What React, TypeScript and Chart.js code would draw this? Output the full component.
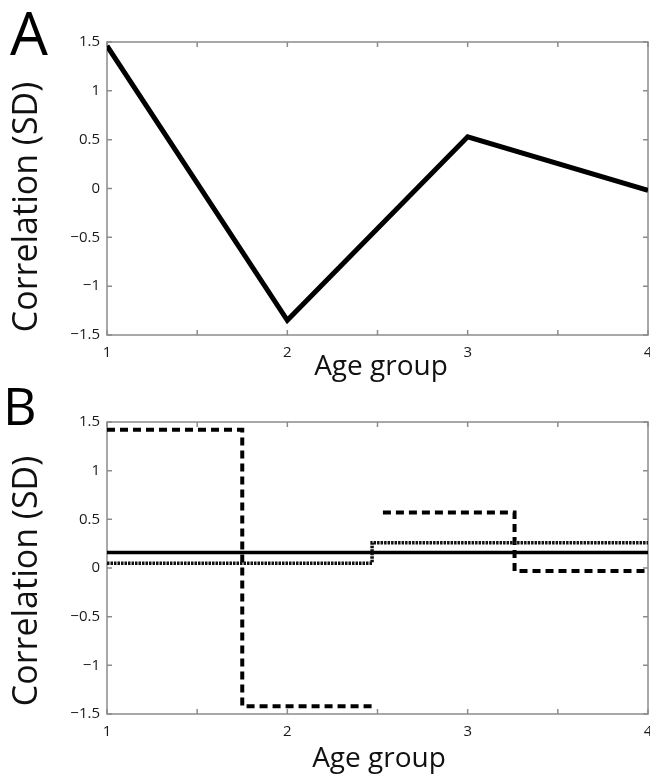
import React, { useEffect, useRef } from "react";
import { Chart, registerables } from "chart.js";

Chart.register(...registerables);

// ---- Panel A data ----
const ageGroupsA = [1, 2, 3, 4];
const correlationA = [1.46, -1.35, 0.53, -0.02];

// ---- Panel B data (step series) ----
const dashedX = [1, 1.75, 1.75, 2.47, 2.47, 2.53, 3.26, 3.26, 4];
const dashedY: (number | null)[] = [1.42, 1.42, -1.42, -1.42, null, 0.57, 0.57, -0.03, -0.03];
const dottedX = [1, 2.47, 2.47, 4];
const dottedY = [0.05, 0.05, 0.26, 0.26];
const solidX = [1, 4];
const solidY = [0.16, 0.16];

// ---- Axis ----
const xMin = 1;
const xMax = 4;
const yMin = -1.5;
const yMax = 1.5;
const tickStep = 0.5;
const xTitle = "Age group";
const yTitle = "Correlation (SD)";

const FONT = "'Open Sans', 'DejaVu Sans', sans-serif";

const toPoints = (xs: number[], ys: (number | null)[]) =>
  xs.map((x, i) => ({ x, y: ys[i] }));

const matlabPlugin = {
  id: "matlab",
  beforeDatasetsDraw(chart: any) {
    const { ctx, chartArea: a, scales } = chart;
    ctx.save();
    ctx.strokeStyle = "#8c8c8c";
    ctx.lineWidth = 1.5;
    ctx.strokeRect(a.left, a.top, a.width, a.height);
    const L = 5;
    ctx.beginPath();
    scales.x.ticks.forEach((t: any) => {
      const px = scales.x.getPixelForValue(t.value);
      ctx.moveTo(px, a.bottom);
      ctx.lineTo(px, a.bottom - L);
      ctx.moveTo(px, a.top);
      ctx.lineTo(px, a.top + L);
    });
    scales.y.ticks.forEach((t: any) => {
      const py = scales.y.getPixelForValue(t.value);
      ctx.moveTo(a.left, py);
      ctx.lineTo(a.left + L, py);
      ctx.moveTo(a.right, py);
      ctx.lineTo(a.right - L, py);
    });
    ctx.stroke();
    ctx.restore();
  },
  afterDraw(chart: any, _args: any, o: any) {
    const { ctx } = chart;
    ctx.save();
    ctx.fillStyle = "#000";
    ctx.textBaseline = "alphabetic";
    ctx.textAlign = "left";
    ctx.font = `${o.letterSize}px ${FONT}`;
    ctx.fillText(o.letter, o.letterX, o.letterY);

    ctx.fillStyle = "#111";
    ctx.textAlign = "center";
    ctx.font = `28px ${FONT}`;
    ctx.fillText(xTitle, o.xTitleX, o.xTitleY);

    ctx.translate(o.yTitleX, o.yTitleY);
    ctx.rotate(-Math.PI / 2);
    ctx.font = `34px ${FONT}`;
    ctx.fillText(yTitle, 0, 0);
    ctx.restore();
  },
};

function makeOptions(H: number, top: number, bottom: number, textOpts: any) {
  return {
    responsive: false,
    animation: false as const,
    devicePixelRatio: 1,
    layout: { padding: { top, right: 2, left: 0, bottom: 0 } },
    plugins: {
      legend: { display: false },
      tooltip: { enabled: false },
      matlab: textOpts,
    },
    scales: {
      x: {
        type: "linear" as const,
        min: xMin,
        max: xMax,
        grid: { display: false, drawTicks: false },
        border: { display: false },
        ticks: {
          stepSize: tickStep,
          autoSkip: false,
          maxRotation: 0,
          padding: 9,
          color: "#1a1a1a",
          font: { family: FONT, size: 15 },
          callback: (v: any) => (Number.isInteger(v) ? String(v) : ""),
        },
        afterFit: (s: any) => {
          s.height = H - bottom;
          s.paddingLeft = 0;
          s.paddingRight = 0;
        },
      },
      y: {
        type: "linear" as const,
        min: yMin,
        max: yMax,
        grid: { display: false, drawTicks: false },
        border: { display: false },
        ticks: {
          stepSize: tickStep,
          padding: 7,
          color: "#1a1a1a",
          font: { family: FONT, size: 15 },
          callback: (v: any) => (v < 0 ? "\u2212" + Math.abs(v) : String(v)),
        },
        afterFit: (s: any) => {
          s.width = 107;
          s.paddingTop = 0;
          s.paddingBottom = 0;
        },
      },
    },
  };
}

function Panel(props: { W: number; H: number; top: number; datasets: any[]; areaTop: number; areaBottom: number; textOpts: any }) {
  const ref = useRef<HTMLCanvasElement>(null);
  useEffect(() => {
    if (!ref.current) return;
    const chart = new Chart(ref.current, {
      type: "line",
      data: { datasets: props.datasets },
      options: makeOptions(props.H, props.areaTop, props.areaBottom, props.textOpts) as any,
      plugins: [matlabPlugin],
    });
    return () => chart.destroy();
  }, []);
  return (
    <canvas
      ref={ref}
      width={props.W}
      height={props.H}
      style={{ position: "absolute", left: 0, top: props.top, width: props.W, height: props.H, display: "block" }}
    />
  );
}

export default function App() {
  const W = 650;
  const datasetsA = [
    {
      data: toPoints(ageGroupsA, correlationA),
      borderColor: "#000",
      borderWidth: 5,
      pointRadius: 0,
      tension: 0,
      fill: false,
    },
  ];
  const datasetsB = [
    {
      data: toPoints(dottedX, dottedY),
      borderColor: "#111",
      borderWidth: 3.5,
      borderDash: [2.5, 1],
      pointRadius: 0,
      fill: false,
    },
    {
      data: toPoints(solidX, solidY),
      borderColor: "#000",
      borderWidth: 3.5,
      pointRadius: 0,
      fill: false,
    },
    {
      data: toPoints(dashedX, dashedY),
      borderColor: "#000",
      borderWidth: 4,
      borderDash: [8, 5],
      pointRadius: 0,
      spanGaps: false,
      fill: false,
    },
  ];
  return (
    <div style={{ position: "absolute", left: 0, top: 0, width: 650, height: 777, background: "#fff", overflow: "hidden" }}>
      <Panel
        W={W}
        H={385}
        top={0}
        areaTop={42}
        areaBottom={335}
        datasets={datasetsA}
        textOpts={{ letter: "A", letterX: 10, letterY: 55, letterSize: 60, xTitleX: 381, xTitleY: 375, yTitleX: 37, yTitleY: 207 }}
      />
      <Panel
        W={W}
        H={392}
        top={385}
        areaTop={37}
        areaBottom={329}
        datasets={datasetsB}
        textOpts={{ letter: "B", letterX: 3, letterY: 40, letterSize: 52, xTitleX: 379, xTitleY: 382, yTitleX: 37, yTitleY: 196 }}
      />
    </div>
  );
}
